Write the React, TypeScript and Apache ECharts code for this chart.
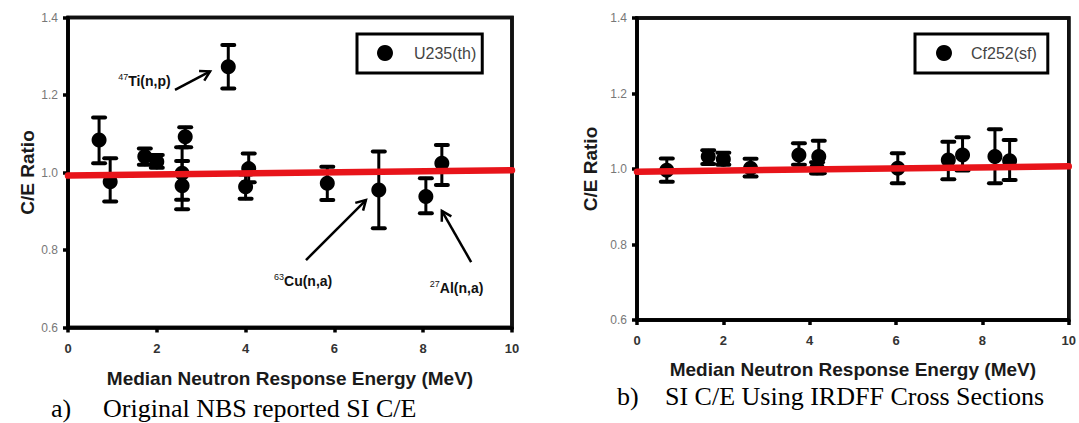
import React, { useEffect, useRef } from "react";
import * as echarts from "echarts";

// ---- Panel a) U235(th): Original NBS reported SI C/E ----
const energyA = [0.70, 0.95, 1.73, 2.00, 2.64, 2.57, 2.57, 3.61, 4.00, 4.07, 5.84, 7.00, 8.06, 8.42];
const ratioA = [1.084, 0.976, 1.041, 1.028, 1.092, 0.998, 0.966, 1.273, 0.963, 1.010, 0.972, 0.955, 0.938, 1.024];
const upperA = [1.142, 1.037, 1.062, 1.045, 1.117, 1.065, 1.030, 1.329, 0.995, 1.049, 1.015, 1.054, 0.985, 1.071];
const lowerA = [1.024, 0.925, 1.020, 1.012, 1.065, 0.930, 0.905, 1.217, 0.932, 0.975, 0.929, 0.856, 0.895, 0.968];

// ---- Panel b) Cf252(sf): SI C/E using IRDFF cross sections ----
const energyB = [0.69, 1.65, 2.00, 2.63, 3.75, 4.17, 4.21, 6.04, 7.21, 7.54, 8.29, 8.63];
const ratioB = [0.997, 1.033, 1.026, 1.002, 1.037, 1.003, 1.033, 1.002, 1.024, 1.037, 1.033, 1.022];
const upperB = [1.028, 1.050, 1.043, 1.027, 1.068, 1.018, 1.075, 1.042, 1.072, 1.084, 1.105, 1.077];
const lowerB = [0.966, 1.013, 1.011, 0.980, 1.011, 0.988, 0.989, 0.962, 0.973, 0.996, 0.962, 0.971];

// red fit lines (x, y)
const fitA = [[0, 0.992], [10, 1.006]];
const fitB = [[0, 0.993], [10, 1.007]];

const xTicks = [0, 2, 4, 6, 8, 10];
const yTicks = [0.6, 0.8, 1.0, 1.2, 1.4];

const seriesNameA = "U235(th)";
const seriesNameB = "Cf252(sf)";
const xTitle = "Median Neutron Response Energy (MeV)";
const yTitle = "C/E Ratio";
const captionA = ["a)", "Original NBS reported SI C/E"];
const captionB = ["b)", "SI C/E Using IRDFF Cross Sections"];

// annotations on panel a) in data coordinates
const annotations = [
  { sup: "47", main: "Ti(n,p)", at: [1.13, 1.235], tail: [2.41, 1.213], head: [3.20, 1.261] },
  { sup: "63", main: "Cu(n,a)", at: [4.64, 0.721], tail: [5.36, 0.774], head: [6.71, 0.929] },
  { sup: "27", main: "Al(n,a)", at: [8.15, 0.702], tail: [9.08, 0.769], head: [8.42, 0.901] },
];

const SANS = '"Liberation Sans", Arial, sans-serif';
const SERIF = '"Liberation Serif", "Times New Roman", serif';

function errorRender(params: any, api: any) {
  const x = api.value(0);
  const lo = api.value(2);
  const hi = api.value(3);
  const pHi = api.coord([x, hi]);
  const pLo = api.coord([x, lo]);
  const hw = 6;
  const st = { stroke: "#000", lineWidth: 3, lineCap: "round" };
  return {
    type: "group",
    children: [
      { type: "line", shape: { x1: pHi[0], y1: pHi[1], x2: pLo[0], y2: pLo[1] }, style: st },
      { type: "line", shape: { x1: pHi[0] - hw, y1: pHi[1], x2: pHi[0] + hw, y2: pHi[1] }, style: { ...st, lineWidth: 4 } },
      { type: "line", shape: { x1: pLo[0] - hw, y1: pLo[1], x2: pLo[0] + hw, y2: pLo[1] }, style: { ...st, lineWidth: 4 } },
    ],
  };
}

const axisLineStyle = { color: "#000", width: 3.5 };

function axesFor(gridIndex: number, yGap: number, xGap: number) {
  const nameStyle = { fontFamily: SANS, fontWeight: "bold", fontSize: 19, color: "#1a1a1a" };
  const xAxis = {
    gridIndex,
    type: "value",
    min: 0,
    max: 10,
    interval: 2,
    name: xTitle,
    nameLocation: "middle",
    nameGap: xGap,
    nameTextStyle: nameStyle,
    axisLine: { show: true, onZero: false, lineStyle: axisLineStyle },
    axisTick: { show: true, inside: false, length: 5, lineStyle: axisLineStyle },
    axisLabel: { fontFamily: SANS, fontWeight: "bold", fontSize: 13, color: "#333", margin: 14, formatter: (v: number) => String(v) },
    splitLine: { show: false },
  };
  const yAxis = {
    gridIndex,
    type: "value",
    min: 0.6,
    max: 1.4,
    interval: 0.2,
    name: yTitle,
    nameLocation: "middle",
    nameGap: yGap,
    nameTextStyle: nameStyle,
    axisLine: { show: true, onZero: false, lineStyle: axisLineStyle },
    axisTick: { show: true, inside: false, length: 5, lineStyle: axisLineStyle },
    axisLabel: { fontFamily: SANS, fontSize: 12, color: "#777", margin: 10, formatter: (v: number) => v.toFixed(1) },
    splitLine: { show: false },
  };
  return { xAxis, yAxis };
}

function seriesFor(idx: number, name: string, xs: number[], ys: number[], lo: number[], hi: number[], fit: number[][]) {
  const errData = xs.map((x, i) => [x, ys[i], lo[i], hi[i]]);
  const pts = xs.map((x, i) => [x, ys[i]]);
  return [
    {
      type: "custom",
      xAxisIndex: idx,
      yAxisIndex: idx,
      renderItem: errorRender,
      encode: { x: 0, y: [2, 3] },
      data: errData,
      z: 2,
      silent: true,
    },
    {
      type: "scatter",
      name,
      xAxisIndex: idx,
      yAxisIndex: idx,
      symbol: "circle",
      symbolSize: 15,
      itemStyle: { color: "#000", opacity: 1 },
      data: pts,
      z: 3,
    },
    {
      type: "line",
      xAxisIndex: idx,
      yAxisIndex: idx,
      data: fit,
      symbol: "none",
      lineStyle: { color: "#e8141a", width: 6.5, cap: "round" },
      z: 4,
      silent: true,
    },
  ];
}

function legendFor(name: string, left: number, pad: number[], textPadLeft: number) {
  return {
    data: [name],
    left,
    top: 34,
    orient: "horizontal",
    icon: "circle",
    itemWidth: 16,
    itemHeight: 16,
    padding: pad,
    borderColor: "#000",
    borderWidth: 3,
    backgroundColor: "#fff",
    selectedMode: false,
    itemStyle: { opacity: 1 },
    textStyle: { fontFamily: SANS, fontSize: 16, color: "#444", lineHeight: 20, padding: [0, 0, 0, textPadLeft] },
  };
}

export default function App() {
  const ref = useRef<HTMLDivElement>(null);
  useEffect(() => {
    if (!ref.current) return;
    const chart = echarts.init(ref.current, undefined, { renderer: "svg" });
    const a = axesFor(0, 29, 41);
    const b = axesFor(1, 37, 40);
    chart.setOption({
      animation: false,
      grid: [
        { left: 68, top: 17.5, width: 444, height: 310, show: true, borderColor: "#000", borderWidth: 3.5, backgroundColor: "rgba(0,0,0,0)" },
        { left: 637, top: 18, width: 433, height: 302, show: true, borderColor: "#000", borderWidth: 3.5, backgroundColor: "rgba(0,0,0,0)" },
      ],
      xAxis: [a.xAxis, b.xAxis],
      yAxis: [a.yAxis, b.yAxis],
      legend: [
        legendFor(seriesNameA, 357, [9, 6, 10, 20], 16),
        legendFor(seriesNameB, 915, [9, 11, 10, 21], 14),
      ],
      series: [
        ...seriesFor(0, seriesNameA, energyA, ratioA, lowerA, upperA, fitA),
        ...seriesFor(1, seriesNameB, energyB, ratioB, lowerB, upperB, fitB),
      ],
    });

    const g: any[] = [];
    // panel frames, positioned through each grid's scales
    [0, 1].forEach((gi) => {
      const toPx = (v: number[]) => chart.convertToPixel({ gridIndex: gi }, v) as number[];
      const bl = toPx([xTicks[0], yTicks[0]]);
      const tr = toPx([xTicks[xTicks.length - 1], yTicks[yTicks.length - 1]]);
      g.push({
        type: "polyline",
        shape: { points: [[bl[0], bl[1]], [bl[0], tr[1]], [tr[0], tr[1]], [tr[0], bl[1]], [bl[0], bl[1]]] },
        style: { stroke: "#111", lineWidth: 3.5, fill: null, lineJoin: "miter" },
      });
    });
    annotations.forEach((an) => {
      const p = chart.convertToPixel({ gridIndex: 0 }, an.at) as number[];
      const t = chart.convertToPixel({ gridIndex: 0 }, an.tail) as number[];
      const h = chart.convertToPixel({ gridIndex: 0 }, an.head) as number[];
      g.push({
        type: "text",
        x: p[0],
        y: p[1] - 4,
        style: { text: an.sup, font: `9px ${SANS}`, fill: "#111", verticalAlign: "middle", align: "left" },
      });
      g.push({
        type: "text",
        x: p[0] + 10,
        y: p[1],
        style: { text: an.main, font: `bold 14px ${SANS}`, fill: "#111", verticalAlign: "middle", align: "left" },
      });
      g.push({
        type: "line",
        shape: { x1: t[0], y1: t[1], x2: h[0], y2: h[1] },
        style: { stroke: "#000", lineWidth: 2.5 },
      });
      const ang = Math.atan2(h[1] - t[1], h[0] - t[0]);
      const L = 11;
      const s = Math.PI / 6;
      g.push({
        type: "polyline",
        shape: {
          points: [
            [h[0] - L * Math.cos(ang - s), h[1] - L * Math.sin(ang - s)],
            [h[0], h[1]],
            [h[0] - L * Math.cos(ang + s), h[1] - L * Math.sin(ang + s)],
          ],
        },
        style: { stroke: "#000", lineWidth: 2.5, fill: null },
      });
    });
    // captions
    g.push({ type: "text", x: 51, y: 408, style: { text: captionA[0], font: `26px ${SERIF}`, fill: "#000", verticalAlign: "middle" } });
    g.push({ type: "text", x: 103, y: 408, style: { text: captionA[1], font: `26px ${SERIF}`, fill: "#000", verticalAlign: "middle" } });
    g.push({ type: "text", x: 617, y: 396, style: { text: captionB[0], font: `26px ${SERIF}`, fill: "#000", verticalAlign: "middle" } });
    g.push({ type: "text", x: 665, y: 396, style: { text: captionB[1], font: `26px ${SERIF}`, fill: "#000", verticalAlign: "middle" } });
    chart.setOption({ graphic: g });

    return () => chart.dispose();
  }, []);
  return (
    <div
      ref={ref}
      style={{ position: "fixed", left: 0, top: 0, width: 1079, height: 423, background: "#fff" }}
    />
  );
}
